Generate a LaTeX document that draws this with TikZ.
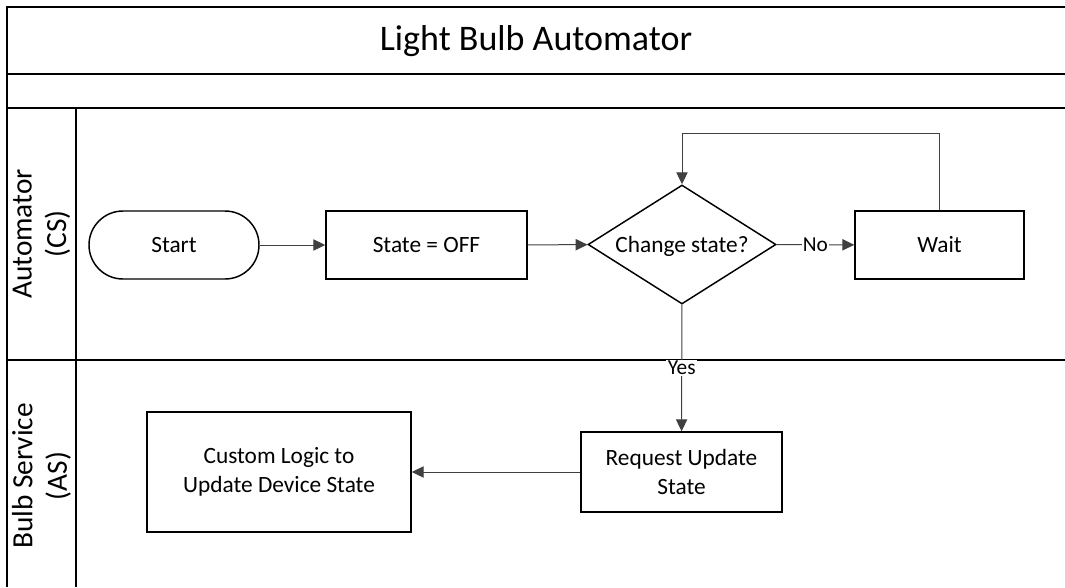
\documentclass[tikz,border=0pt]{standalone}
\usepackage{fontspec}
\setmainfont{Carlito}
\usetikzlibrary{shapes.geometric,arrows.meta}

\tikzset{
  frameline/.style={line width=1.5pt, black},
  nodetext/.style={font=\fontsize{17.5}{22}\selectfont},
  boxnode/.style={draw, line width=1.1pt, rectangle, inner sep=0pt, align=center,
    nodetext},
  terminal/.style={boxnode, rounded corners=25.5pt},
  decision/.style={draw, line width=1.1pt, diamond, inner sep=0pt,
    minimum width=141pt, minimum height=89.25pt},
  flow/.style={line width=0.75pt, black!75,
    -{Triangle[length=9pt,width=8.5pt]}},
  flowlabel/.style={fill=white, inner sep=1pt, text=black,
    font=\fontsize{16}{19}\selectfont},
  lanelabel/.style={rotate=90, align=center, font=\fontsize{22}{26}\selectfont},
}

\begin{document}
\begin{tikzpicture}[x=0.75pt, y=-0.75pt]
\useasboundingbox (0,0) rectangle (1065,587);

% pool and lane frame
\draw[frameline] (7,587) -- (7,7) -- (1065,7);
\draw[frameline] (7,74) -- (1065,74);
\draw[frameline] (7,108) -- (1065,108);
\draw[frameline] (7,360) -- (1065,360);
\draw[frameline] (76,108) -- (76,587);

\node (title) at (536,41) {\fontsize{27}{32}\selectfont Light Bulb Automator};
\node[lanelabel] (laneA) at (41.5,234) {Automator\\(CS)};
\node[lanelabel] (laneB) at (41.5,476) {Bulb Service\\(AS)};

% process steps
\node[terminal, minimum width=127.5pt, minimum height=51pt] (start) at (174,245) {Start};
\node[boxnode, minimum width=150.75pt, minimum height=51pt] (state) at (426.5,245) {State = OFF};
\node[decision] (dec) at (682,244.5) {};
\node[nodetext, inner sep=0pt, yshift=-1.5pt] (dectext) at (dec.center) {Change state?};
\node[boxnode, minimum width=126.75pt, minimum height=51pt] (wait) at (939.5,245) {Wait};
\node[boxnode, minimum width=150.75pt, minimum height=60pt] (req) at (681.5,472) {Request Update\\State};
\node[boxnode, minimum width=198pt, minimum height=90pt] (logic) at (279,472) {Custom Logic to\\Update Device State};

% connectors
\draw[flow] (start) -- (state);
\draw[flow] (state) -- (dec);
\draw[flow] (dec) -- node[flowlabel] (no) {No} (wait);
\draw[flow] (wait.north) -- ++(0,-77) -| (dec.north);
\draw[flow] (dec) -- node[flowlabel, pos=0.5] (yes) {Yes} (req);
\draw[flow] (req) -- (logic);
\end{tikzpicture}
\end{document}
